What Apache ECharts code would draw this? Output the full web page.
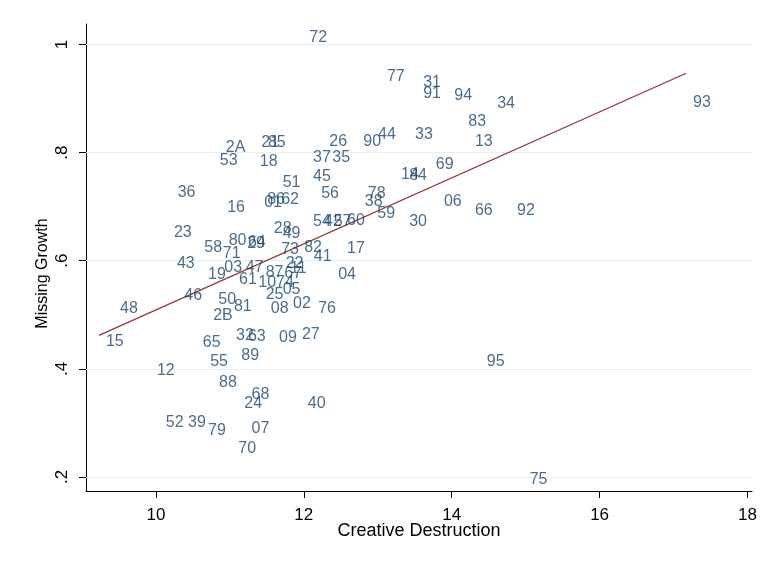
<!DOCTYPE html>
<html>
<head>
<meta charset="utf-8">
<script src="https://cdn.jsdelivr.net/npm/echarts@6/dist/echarts.min.js"></script>
<style>html,body{margin:0;padding:0;background:#fff;}#c{width:768px;height:563px;}</style>
</head>
<body>
<div id="c"></div>
<script>
const codes = ['72','77','31','91','94','34','93','83','13','33',
  '44','90','26','37','35','2A','53','21','85','18',
  '69','14','84','45','56','78','38','59','06','66',
  '92','30','54','42','57','60','82','41','17','04',
  '36','16','86','62','01','51','23','28','49','80',
  '29','64','58','71','73','43','03','47','22','11',
  '19','87','67','61','10','74','25','05','46','48',
  '50','81','2B','08','02','76','15','65','32','63',
  '09','27','55','89','95','12','88','68','24','40',
  '52','39','79','07','70','75'];
const creativeDestruction = [11.98,13.03,13.52,13.52,13.94,14.52,17.17,14.13,14.22,13.41,
  12.91,12.71,12.25,12.03,12.29,10.85,10.77,11.33,11.42,11.31,
  13.69,13.22,13.33,12.03,12.14,12.77,12.73,12.90,13.80,14.22,
  14.79,13.33,12.03,12.18,12.31,12.49,11.91,12.04,12.49,12.37,
  10.20,10.87,11.41,11.60,11.37,11.62,10.15,11.50,11.62,10.89,
  11.14,11.15,10.56,10.81,11.60,10.19,10.83,11.12,11.66,11.72,
  10.61,11.39,11.64,11.03,11.29,11.53,11.39,11.62,10.29,9.42,
  10.75,10.96,10.68,11.46,11.76,12.10,9.23,10.54,10.99,11.15,
  11.57,11.88,10.64,11.06,14.38,9.92,10.76,11.20,11.10,11.96,
  10.04,10.34,10.61,11.20,11.02,14.96];
const missingGrowth = [1.012,0.940,0.929,0.909,0.905,0.890,0.892,0.857,0.820,0.833,
  0.833,0.820,0.820,0.790,0.790,0.809,0.785,0.818,0.818,0.783,
  0.777,0.760,0.757,0.755,0.725,0.725,0.709,0.688,0.709,0.692,
  0.692,0.672,0.672,0.672,0.672,0.674,0.624,0.607,0.622,0.574,
  0.727,0.699,0.714,0.714,0.707,0.744,0.653,0.659,0.651,0.638,
  0.631,0.633,0.624,0.614,0.620,0.594,0.588,0.588,0.594,0.585,
  0.574,0.579,0.577,0.565,0.559,0.559,0.538,0.546,0.535,0.511,
  0.529,0.516,0.498,0.512,0.520,0.512,0.450,0.448,0.461,0.459,
  0.457,0.464,0.414,0.424,0.414,0.396,0.374,0.353,0.335,0.335,
  0.301,0.301,0.285,0.289,0.253,0.196];
const fitX = [9.23, 17.17];
const fitY = [0.462, 0.947];
const xTicks = [10, 12, 14, 16, 18];
const yTicks = [0.2, 0.4, 0.6, 0.8, 1];
const yTickLabels = ['.2', '.4', '.6', '.8', '1'];

const pts = codes.map((c, i) => ({ name: c, value: [creativeDestruction[i], missingGrowth[i]] }));
const fitData = fitX.map((x, i) => [x, fitY[i]]);
const FONT = '"Liberation Sans", Arial, sans-serif';

const chart = echarts.init(document.getElementById('c'), null, { renderer: 'canvas' });
chart.setOption({
  backgroundColor: '#ffffff',
  animation: false,
  grid: { left: 86, right: 16, top: 24, bottom: 72 },
  xAxis: {
    type: 'value', min: 9.055, max: 18.061,
    name: 'Creative Destruction', nameLocation: 'middle', nameGap: 31, nameMoveOverlap: false,
    nameTextStyle: { color: '#000', fontSize: 18, fontFamily: FONT },
    axisLine: { show: true, onZero: false, lineStyle: { color: '#000', width: 1 } },
    axisTick: { show: true, length: 7, customValues: xTicks, lineStyle: { color: '#000' } },
    axisLabel: { customValues: xTicks, color: '#000', fontSize: 17, fontFamily: FONT, margin: 16 },
    splitLine: { show: false }
  },
  yAxis: {
    type: 'value', min: 0.174, max: 1.038,
    name: 'Missing Growth', nameLocation: 'middle', nameGap: 35, nameRotate: 90, nameMoveOverlap: false,
    nameTextStyle: { color: '#000', fontSize: 16, fontFamily: FONT, padding: [0, 32, 0, 0] },
    axisLine: { show: true, onZero: false, lineStyle: { color: '#000', width: 1 } },
    axisTick: { show: true, length: 7, customValues: yTicks, lineStyle: { color: '#000' } },
    axisLabel: {
      customValues: yTicks, rotate: 90, color: '#000', fontSize: 17, fontFamily: FONT, margin: 15,
      formatter: v => { const k = yTicks.findIndex(t => Math.abs(t - v) < 1e-6); return k >= 0 ? yTickLabels[k] : ''; }
    },
    splitLine: { show: false }
  },
  series: [
    {
      type: 'line', data: fitData, symbol: 'none', silent: true, z: 3,
      lineStyle: { color: '#90353b', width: 1.2 },
      markLine: {
        silent: true, symbol: 'none', label: { show: false }, z: 1,
        lineStyle: { color: '#e8eff3', width: 1, type: 'solid' },
        data: yTicks.map(v => ({ yAxis: v }))
      }
    },
    {
      type: 'scatter', data: pts, symbolSize: 0, z: 4,
      itemStyle: { color: 'rgba(0,0,0,0)' },
      label: {
        show: true, position: 'right', distance: 7,
        formatter: p => p.name, color: '#1a476f', fontSize: 16, fontFamily: FONT
      },
      labelLayout: { hideOverlap: false }
    }
  ]
});
</script>
</body>
</html>
